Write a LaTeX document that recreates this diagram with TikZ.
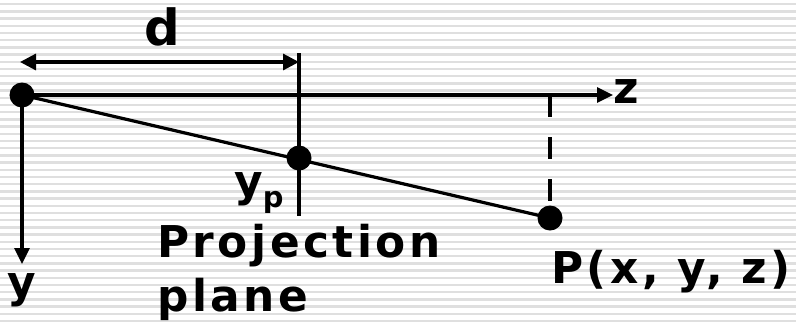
\documentclass[tikz,border=0pt]{standalone}
\usepackage{fontspec}
\setmainfont{DejaVu Sans}
\newfontfamily\lblfont[LetterSpace=8]{DejaVu Sans}
\usetikzlibrary{arrows.meta}
\begin{document}
\begin{tikzpicture}[x=1bp,y=-1bp,
  axis/.style={line width=3.2bp, draw=black},
  dot/.style={circle, fill=black, inner sep=0pt, minimum size=25bp},
  lbl/.style={inner sep=0pt, anchor=base west, font=\lblfont\bfseries\fontsize{44}{50}\selectfont},
  tipend/.style={-{Triangle[length=16bp,width=15bp]}},
  tipboth/.style={{Triangle[length=16bp,width=16bp]}-{Triangle[length=16bp,width=16bp]}}]
\useasboundingbox (0,0) rectangle (796,324);
\fill[white] (0,0) rectangle (796,324);
\foreach \k in {0,...,44} \fill[gray!25] (0,{3+7.2*\k}) rectangle (796,{5.4+7.2*\k});
% coordinates
\coordinate (O) at (22,95);
\coordinate (Y) at (299,158);
\coordinate (P) at (550,218);
\coordinate (zend) at (613,95);
\coordinate (yend) at (22,264);
\coordinate (dL) at (20,62);
\coordinate (dR) at (299,62);
\coordinate (plTop) at (299,53);
\coordinate (plBot) at (299,216);
\coordinate (Pz) at (550,95);
% connectors
\draw[axis, tipend] (O) -- (zend);
\draw[axis, tipend] (O) -- (yend);
\draw[axis, tipboth] (dL) -- (dR);
\draw[axis] (plTop) -- (plBot);
\draw[axis] (O) -- (P);
\draw[axis, dash pattern=on 22bp off 20bp, shorten >=17bp] (Pz) -- (P);
% dots
\node[dot] (Odot) at (O) {};
\node[dot] (Ydot) at (Y) {};
\node[dot] (Pdot) at (P) {};
% labels
\node[lbl] (zl) at (613,103) {z};
\node[lbl] (yl) at (7,297) {y};
\node[lbl, font=\lblfont\bfseries\fontsize{50}{60}\selectfont] (dl) at (144,45) {d};
\node[lbl] (ypl) at (234,196) {y\raisebox{-11bp}{\fontsize{29}{30}\selectfont p}};
\node[lbl] (pl1) at (157,257) {Projection};
\node[lbl] (pl2) at (157,311) {plane};
\node[lbl] (Pl) at (551,283) {P(x, y, z)};
\end{tikzpicture}
\end{document}
